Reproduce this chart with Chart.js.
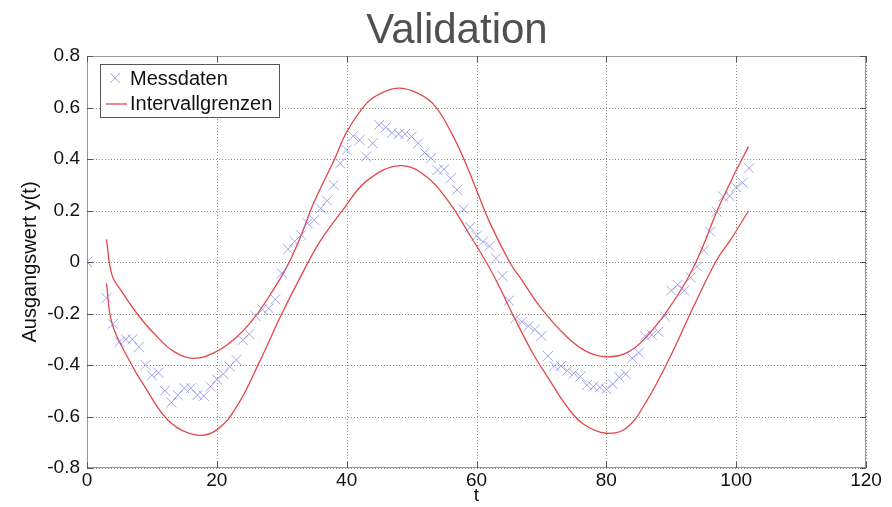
<!DOCTYPE html>
<html>
<head>
<meta charset="utf-8">
<script src="https://cdn.jsdelivr.net/npm/chart.js@4.4.1/dist/chart.umd.min.js"></script>
<style>
  html, body { margin: 0; padding: 0; background: #fff; }
  #wrap { width: 892px; height: 507px; position: relative; }
</style>
</head>
<body>
<div id="wrap"><canvas id="validationChart"></canvas></div>
<script>
// Messdaten
const tMess = [0, 3, 4, 5, 6, 7, 8, 9, 10, 11, 12, 13, 14, 15, 16, 17, 18, 19, 20,
  21, 22, 23, 24, 25, 26, 27, 28, 29, 30, 31, 32, 33, 34, 35, 36, 37, 38, 39, 40,
  41, 42, 43, 44, 45, 46, 47, 48, 49, 50, 51, 52, 53, 54, 55, 56, 57, 58, 59, 60,
  61, 62, 63, 64, 65, 66, 67, 68, 69, 70, 71, 72, 73, 74, 75, 76, 77, 78, 79, 80,
  81, 82, 83, 84, 85, 86, 87, 88, 89, 90, 91, 92, 93, 94, 95, 96, 97, 98, 99, 100,
  101, 102];
const yMess = [0, -0.14, -0.24, -0.31, -0.30, -0.30, -0.33, -0.40, -0.44, -0.43, -0.50,
  -0.546, -0.517, -0.49, -0.49, -0.517, -0.52, -0.484, -0.456, -0.435, -0.406, -0.38,
  -0.303, -0.28, -0.21, -0.184, -0.18, -0.145, -0.044, 0.05, 0.08, 0.105, 0.15, 0.163,
  0.208, 0.238, 0.299, 0.383, 0.435, 0.489, 0.474, 0.409, 0.461, 0.532, 0.523, 0.502,
  0.497, 0.497, 0.487, 0.461, 0.425, 0.403, 0.357, 0.36, 0.325, 0.28, 0.205, 0.135,
  0.101, 0.079, 0.062, 0.014, -0.054, -0.15, -0.219, -0.232, -0.249, -0.262, -0.287,
  -0.365, -0.404, -0.404, -0.422, -0.432, -0.445, -0.478, -0.484, -0.487, -0.494,
  -0.474, -0.448, -0.435, -0.374, -0.352, -0.287, -0.283, -0.271, -0.21, -0.111,
  -0.089, -0.111, -0.06, -0.018, 0.045, 0.118, 0.195, 0.254, 0.256, 0.29, 0.308, 0.364];

// Intervallgrenzen (obere / untere)
const tUpper = [3, 3.85, 5.5, 7.7, 10.3, 13.4, 16.4, 19.9, 23.1, 25.7, 28.2, 30.8, 32.9,
  34.9, 38.2, 40, 43.1, 45.5, 48.2, 51, 53.4, 55.9, 58, 60, 62.1, 65.2, 66.7, 69.8,
  73.9, 77, 80, 83.2, 86.2, 89.3, 92.4, 94.7, 97, 99.5, 101.9];
const yUpper = [0.088, -0.05, -0.12, -0.2, -0.277, -0.348, -0.374, -0.348, -0.29, -0.219,
  -0.128, -0.018, 0.098, 0.228, 0.403, 0.505, 0.617, 0.658, 0.675, 0.655, 0.612, 0.513,
  0.403, 0.28, 0.15, -0.005, -0.06, -0.174, -0.29, -0.348, -0.368, -0.352, -0.29,
  -0.193, -0.07, 0.05, 0.195, 0.33, 0.448];
const tLower = [3, 3.85, 6.2, 9.2, 12.8, 16.9, 20, 23.1, 26.7, 29.8, 32.9, 35.9, 39.5,
  43.1, 48.2, 52.3, 55.9, 58.5, 61.6, 63.6, 65.7, 68.8, 70.8, 73.9, 76.5, 80, 83.1,
  86.2, 89.8, 93.4, 97, 99.1, 101.9];
const yLower = [-0.083, -0.238, -0.368, -0.497, -0.622, -0.672, -0.652, -0.56, -0.381,
  -0.212, -0.057, 0.08, 0.205, 0.315, 0.374, 0.331, 0.228, 0.124, -0.005, -0.1, -0.21,
  -0.36, -0.44, -0.56, -0.63, -0.665, -0.645, -0.54, -0.37, -0.175, 0.008, 0.085, 0.198];

const xTicks = [0, 20, 40, 60, 80, 100, 120];
const yTicks = [-0.8, -0.6, -0.4, -0.2, 0, 0.2, 0.4, 0.6, 0.8];

const crossColor = 'rgba(125,125,230,0.7)';
const redColor = '#e2474a';
const fontFamily = '"Liberation Sans", Arial, sans-serif';

function toPoints(xs, ys) {
  return xs.map((x, i) => ({ x: x, y: ys[i] }));
}

// dotted grid behind the data
const dottedGrid = {
  id: 'dottedGrid',
  beforeDatasetsDraw(chart) {
    const ctx = chart.ctx;
    const a = chart.chartArea;
    ctx.save();
    ctx.strokeStyle = '#8c8c8c';
    ctx.lineWidth = 1;
    ctx.setLineDash([1, 2]);
    ctx.beginPath();
    xTicks.forEach(v => {
      const px = Math.round(chart.scales.x.getPixelForValue(v)) + 0.5;
      ctx.moveTo(px, a.top); ctx.lineTo(px, a.bottom);
    });
    yTicks.forEach(v => {
      const py = Math.round(chart.scales.y.getPixelForValue(v)) + 0.5;
      ctx.moveTo(a.left, py); ctx.lineTo(a.right, py);
    });
    ctx.stroke();
    ctx.restore();
  }
};

// box, inner ticks, title and legend in MATLAB style
const matlabDecor = {
  id: 'matlabDecor',
  afterDraw(chart) {
    const ctx = chart.ctx;
    const a = chart.chartArea;
    const xs = chart.scales.x;
    const ys = chart.scales.y;
    ctx.save();

    ctx.strokeStyle = '#9a9a9a';
    ctx.lineWidth = 1;
    ctx.strokeRect(a.left + 0.5, a.top + 0.5, a.right - a.left - 1, a.bottom - a.top - 1);

    ctx.strokeStyle = '#555';
    ctx.beginPath();
    xTicks.forEach(v => {
      const px = Math.round(xs.getPixelForValue(v)) + 0.5;
      ctx.moveTo(px, a.bottom); ctx.lineTo(px, a.bottom - 6);
      ctx.moveTo(px, a.top); ctx.lineTo(px, a.top + 6);
    });
    yTicks.forEach(v => {
      const py = Math.round(ys.getPixelForValue(v)) + 0.5;
      ctx.moveTo(a.left, py); ctx.lineTo(a.left + 6, py);
      ctx.moveTo(a.right, py); ctx.lineTo(a.right - 6, py);
    });
    ctx.stroke();

    // title
    ctx.fillStyle = '#505050';
    ctx.font = '42px ' + fontFamily;
    ctx.textAlign = 'center';
    ctx.textBaseline = 'alphabetic';
    ctx.fillText('Validation', 457, 43);

    // legend
    const lx = 100, ly = 64, lw = 179, lh = 53;
    ctx.fillStyle = '#fff';
    ctx.fillRect(lx, ly, lw, lh);
    ctx.strokeStyle = '#555';
    ctx.strokeRect(lx + 0.5, ly + 0.5, lw, lh);

    ctx.strokeStyle = crossColor;
    ctx.beginPath();
    ctx.moveTo(110, 73); ctx.lineTo(120, 83);
    ctx.moveTo(120, 73); ctx.lineTo(110, 83);
    ctx.stroke();

    ctx.strokeStyle = redColor;
    ctx.lineWidth = 1.3;
    ctx.beginPath();
    ctx.moveTo(106, 104); ctx.lineTo(127, 104);
    ctx.stroke();

    ctx.fillStyle = '#111';
    ctx.font = '20px ' + fontFamily;
    ctx.textAlign = 'left';
    ctx.textBaseline = 'middle';
    ctx.fillText('Messdaten', 130, 79);
    ctx.fillText('Intervallgrenzen', 130, 104);
    ctx.restore();
  }
};

const ctx = document.getElementById('validationChart').getContext('2d');
const validationChart = new Chart(ctx, {
  type: 'scatter',
  data: {
    datasets: [
      {
        label: 'Messdaten',
        data: toPoints(tMess, yMess),
        pointStyle: 'crossRot',
        pointRadius: 7,
        borderColor: crossColor,
        backgroundColor: crossColor,
        borderWidth: 1,
        showLine: false
      },
      {
        label: 'Intervallgrenzen',
        data: toPoints(tUpper, yUpper),
        showLine: true,
        pointRadius: 0,
        borderColor: redColor,
        borderWidth: 1.3,
        tension: 0.4
      },
      {
        label: 'Intervallgrenzen unten',
        data: toPoints(tLower, yLower),
        showLine: true,
        pointRadius: 0,
        borderColor: redColor,
        borderWidth: 1.3,
        tension: 0.4
      }
    ]
  },
  options: {
    responsive: true,
    maintainAspectRatio: false,
    animation: false,
    events: [],
    layout: { padding: { top: 56, right: 26, left: 0, bottom: 0 } },
    plugins: {
      legend: { display: false },
      title: { display: false },
      tooltip: { enabled: false }
    },
    scales: {
      x: {
        type: 'linear',
        min: 0,
        max: 120,
        afterBuildTicks: scale => { scale.ticks = xTicks.map(v => ({ value: v })); },
        afterFit: scale => { scale.height = 39; },
        grid: { display: false, drawTicks: false },
        border: { display: false },
        ticks: {
          padding: 1,
          color: '#111',
          font: { family: fontFamily, size: 19 },
          maxRotation: 0
        },
        title: {
          display: true,
          text: 't',
          color: '#111',
          padding: { top: 0, bottom: 0 },
          font: { family: fontFamily, size: 19 }
        }
      },
      y: {
        type: 'linear',
        min: -0.8,
        max: 0.8,
        afterBuildTicks: scale => { scale.ticks = yTicks.map(v => ({ value: v })); },
        afterFit: scale => { scale.width = 87; },
        grid: { display: false, drawTicks: false },
        border: { display: false },
        ticks: {
          padding: 7,
          color: '#111',
          font: { family: fontFamily, size: 19 },
          callback: v => (Math.abs(v) < 1e-9 ? '0' : String(Math.round(v * 10) / 10))
        },
        title: {
          display: true,
          text: 'Ausgangswert y(t)',
          color: '#111',
          padding: { top: 18, bottom: 0 },
          font: { family: fontFamily, size: 20 }
        }
      }
    }
  },
  plugins: [dottedGrid, matlabDecor]
});
</script>
</body>
</html>
